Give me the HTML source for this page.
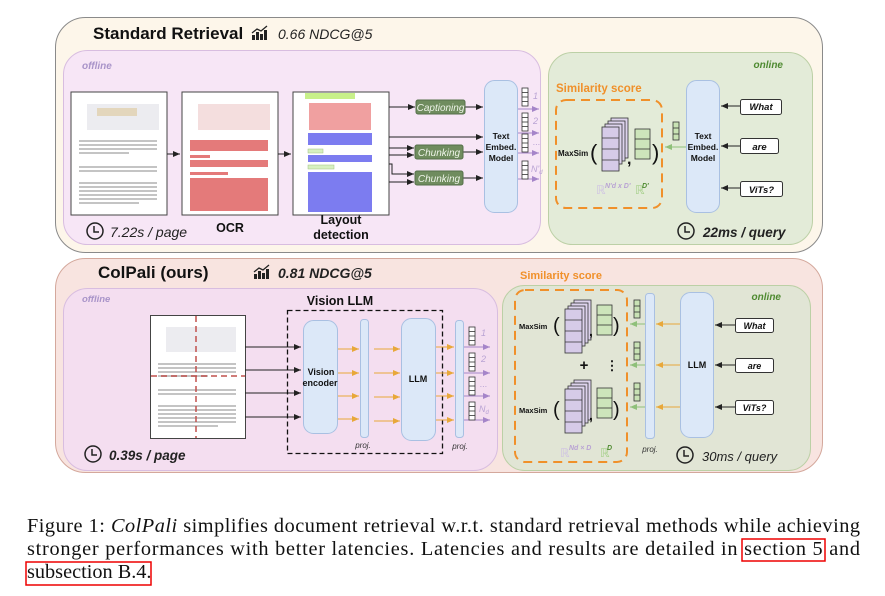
<!DOCTYPE html>
<html><head><meta charset="utf-8"><style>
html,body{margin:0;padding:0;background:#fff;}
svg{display:block;}
text{font-family:"Liberation Sans",sans-serif;}
text.serif{font-family:"Liberation Serif",serif;}
</style></head><body>
<svg width="885" height="596" viewBox="0 0 885 596" xmlns="http://www.w3.org/2000/svg">
<defs>
<marker id="ak" markerWidth="8" markerHeight="8" refX="7" refY="4" orient="auto" markerUnits="userSpaceOnUse"><path d="M0,1 L7,4 L0,7 z" fill="#222"/></marker>
<marker id="ap" markerWidth="8" markerHeight="8" refX="7" refY="4" orient="auto" markerUnits="userSpaceOnUse"><path d="M0,1 L7,4 L0,7 z" fill="#a585c9"/></marker>
<marker id="ao" markerWidth="8" markerHeight="8" refX="7" refY="4" orient="auto" markerUnits="userSpaceOnUse"><path d="M0,1 L7,4 L0,7 z" fill="#e8a83a"/></marker>
<marker id="ag" markerWidth="8" markerHeight="8" refX="7" refY="4" orient="auto" markerUnits="userSpaceOnUse"><path d="M0,1 L7,4 L0,7 z" fill="#8fc07a"/></marker>
<g id="vec"><rect x="0" y="0" width="6" height="18" fill="#fff" stroke="#333" stroke-width="0.8"/><line x1="0" y1="4.5" x2="6" y2="4.5" stroke="#333" stroke-width="0.8"/><line x1="0" y1="9" x2="6" y2="9" stroke="#333" stroke-width="0.8"/><line x1="0" y1="13.5" x2="6" y2="13.5" stroke="#333" stroke-width="0.8"/></g>
<g id="gvec"><rect x="0" y="0" width="6" height="18" fill="#c9e3b5" stroke="#333" stroke-width="0.8"/><line x1="0" y1="6" x2="6" y2="6" stroke="#333" stroke-width="0.8"/><line x1="0" y1="12" x2="6" y2="12" stroke="#333" stroke-width="0.8"/></g>
<g id="clock"><circle cx="0" cy="0" r="8" fill="none" stroke="#222" stroke-width="1.5"/><path d="M-1,-5 V1 H4" fill="none" stroke="#222" stroke-width="1.5"/></g>
<g id="bars"><rect x="0" y="7" width="3" height="5" fill="#222"/><rect x="4" y="4" width="3" height="8" fill="#222"/><rect x="8" y="6" width="3" height="6" fill="#222"/><rect x="12" y="2" width="3" height="10" fill="#222"/><path d="M0,5 L5,1 L9,3 L15,-2" stroke="#222" stroke-width="1.3" fill="none"/></g>
<g id="stack">
<rect x="9" y="0" width="17" height="40" fill="#ddd3ec" stroke="#333" stroke-width="0.8"/>
<rect x="6" y="3" width="17" height="40" fill="#ddd3ec" stroke="#333" stroke-width="0.8"/>
<rect x="3" y="6" width="17" height="40" fill="#ddd3ec" stroke="#333" stroke-width="0.8"/>
<rect x="0" y="9" width="17" height="44" fill="#d6cbe8" stroke="#333" stroke-width="0.8"/>
<line x1="0" y1="20" x2="17" y2="20" stroke="#333" stroke-width="0.8"/><line x1="0" y1="31" x2="17" y2="31" stroke="#333" stroke-width="0.8"/><line x1="0" y1="42" x2="17" y2="42" stroke="#333" stroke-width="0.8"/>
</g>
<g id="gmat"><rect x="0" y="0" width="15" height="30" fill="#cde5bb" stroke="#333" stroke-width="0.8"/><line x1="0" y1="10" x2="15" y2="10" stroke="#333" stroke-width="0.8"/><line x1="0" y1="20" x2="15" y2="20" stroke="#333" stroke-width="0.8"/></g>
<g id="txt" fill="#c4c4c4">
<rect x="8" y="48" width="78" height="2"/><rect x="8" y="52" width="78" height="2"/><rect x="8" y="56" width="78" height="2"/><rect x="8" y="60" width="50" height="2"/>
<rect x="8" y="74" width="78" height="2"/><rect x="8" y="78" width="78" height="2"/>
<rect x="8" y="90" width="78" height="2"/><rect x="8" y="94" width="78" height="2"/><rect x="8" y="98" width="78" height="2"/><rect x="8" y="102" width="78" height="2"/><rect x="8" y="106" width="78" height="2"/><rect x="8" y="110" width="60" height="2"/>
</g>
</defs>

<!-- TOP -->
<rect x="55.5" y="17.5" width="767" height="235" rx="30" fill="#fdf6ea" stroke="#8a8a8a"/>
<text x="93" y="39" font-size="17" font-weight="bold" fill="#111">Standard Retrieval</text>
<use href="#bars" x="252" y="28"/>
<text x="278" y="39" font-size="14" font-style="italic" fill="#222">0.66 NDCG@5</text>
<rect x="63.5" y="50.5" width="477" height="194" rx="24" fill="#f7e6f6" stroke="#d8bde0"/>
<text x="82" y="69" font-size="10" font-weight="bold" font-style="italic" fill="#a994c9">offline</text>

<rect x="71" y="92" width="96" height="123" fill="#fff" stroke="#444"/>
<rect x="87" y="104" width="72" height="26" fill="#ececf0"/><rect x="97" y="108" width="40" height="8" fill="#e3d6bc"/>
<use href="#txt" x="71" y="92"/>
<rect x="182" y="92" width="96" height="123" fill="#fff" stroke="#444"/>
<rect x="198" y="104" width="72" height="26" fill="#f4dede"/>
<g fill="#e47a7a"><rect x="190" y="140" width="78" height="11"/><rect x="190" y="155" width="20" height="3"/><rect x="190" y="160" width="78" height="7"/><rect x="190" y="172" width="38" height="3"/><rect x="190" y="178" width="78" height="33"/></g>
<rect x="293" y="92" width="96" height="123" fill="#fff" stroke="#444"/>
<rect x="305" y="93" width="50" height="6" fill="#c8f08a"/>
<rect x="309" y="103" width="62" height="27" fill="#f0a0a0"/>
<rect x="308" y="133" width="64" height="12" fill="#7c7cf0"/>
<rect x="308" y="149" width="15" height="4" fill="#d7f0c0" stroke="#a0c080" stroke-width="0.5"/>
<rect x="308" y="155" width="64" height="7" fill="#7c7cf0"/>
<rect x="308" y="165" width="26" height="4" fill="#d7f0c0" stroke="#a0c080" stroke-width="0.5"/>
<rect x="308" y="172" width="64" height="40" fill="#7c7cf0"/>

<line x1="167" y1="154" x2="180" y2="154" stroke="#222" marker-end="url(#ak)"/>
<line x1="278" y1="154" x2="291" y2="154" stroke="#222" marker-end="url(#ak)"/>

<use href="#clock" x="95" y="231"/>
<text x="110" y="237" font-size="14" font-style="italic" fill="#222">7.22s / page</text>
<text x="230" y="232" font-size="12.5" font-weight="bold" text-anchor="middle" fill="#111">OCR</text>
<text x="341" y="224" font-size="12.5" font-weight="bold" text-anchor="middle" fill="#111">Layout</text>
<text x="341" y="239" font-size="12.5" font-weight="bold" text-anchor="middle" fill="#111">detection</text>

<g stroke="#222" fill="none">
<line x1="389" y1="107" x2="415" y2="107" marker-end="url(#ak)"/>
<line x1="465" y1="107" x2="483" y2="107" marker-end="url(#ak)"/>
<line x1="389" y1="137" x2="483" y2="137" marker-end="url(#ak)"/>
<line x1="389" y1="148" x2="414" y2="148" marker-end="url(#ak)"/>
<line x1="389" y1="155" x2="414" y2="155" marker-end="url(#ak)"/>
<line x1="463" y1="152" x2="483" y2="152" marker-end="url(#ak)"/>
<path d="M389,164 H392 V174 H414" marker-end="url(#ak)"/>
<line x1="389" y1="182" x2="414" y2="182" marker-end="url(#ak)"/>
<line x1="463" y1="178" x2="483" y2="178" marker-end="url(#ak)"/>
</g>
<g font-size="10" font-style="italic" fill="#eef4e8" text-anchor="middle">
<rect x="416" y="100" width="49" height="14" rx="2" fill="#6f8c5e" stroke="#55704a"/><text x="440.5" y="111">Captioning</text>
<rect x="415" y="145" width="48" height="14" rx="2" fill="#6f8c5e" stroke="#55704a"/><text x="439" y="156">Chunking</text>
<rect x="415" y="171" width="48" height="14" rx="2" fill="#6f8c5e" stroke="#55704a"/><text x="439" y="182">Chunking</text>
</g>
<rect x="484.5" y="80.5" width="33" height="132" rx="10" fill="#dce8f8" stroke="#a9c0e2"/>
<g font-size="8.5" font-weight="bold" text-anchor="middle" fill="#111"><text x="501" y="139">Text</text><text x="501" y="150">Embed.</text><text x="501" y="161">Model</text></g>
<g stroke="#a585c9">
<line x1="518" y1="109" x2="539" y2="109" marker-end="url(#ap)"/>
<line x1="518" y1="133" x2="539" y2="133" marker-end="url(#ap)"/>
<line x1="518" y1="153" x2="539" y2="153" marker-end="url(#ap)"/>
<line x1="518" y1="179" x2="539" y2="179" marker-end="url(#ap)"/>
</g>
<use href="#vec" x="522" y="88"/><use href="#vec" x="522" y="113"/><use href="#vec" x="522" y="134"/><use href="#vec" x="522" y="161"/>
<g font-size="9" fill="#b9a3d4" font-style="italic"><text x="533" y="99">1</text><text x="533" y="124">2</text><text x="533" y="145">...</text><text x="531" y="172">N'<tspan font-size="6" dy="2">d</tspan></text></g>

<rect x="548.5" y="52.5" width="264" height="192" rx="24" fill="#e3ebd8" stroke="#bcd0a6"/>
<text x="783" y="68" font-size="10" font-weight="bold" font-style="italic" fill="#4e8a30" text-anchor="end">online</text>
<text x="556" y="92" font-size="11.5" font-weight="bold" fill="#f0902a">Similarity score</text>
<rect x="556" y="100" width="106" height="108" rx="10" fill="none" stroke="#f0902a" stroke-width="2" stroke-dasharray="9,6"/>
<text x="558" y="156" font-size="8" font-weight="bold" fill="#111">MaxSim</text>
<text x="590" y="160" font-size="22" fill="#111">(</text>
<use href="#stack" x="602" y="118"/>
<text x="627" y="164" font-size="16" font-weight="bold" fill="#111">,</text>
<use href="#gmat" x="635" y="129"/>
<text x="652" y="160" font-size="22" fill="#111">)</text>
<text x="596" y="194" font-size="12" fill="#cfc3e3">ℝ</text><text x="605" y="188" font-size="7" font-style="italic" font-weight="bold" fill="#b9a3d4">N'd x D'</text>
<text x="635" y="194" font-size="12" fill="#a6d08a">ℝ</text><text x="642" y="188" font-size="7" font-style="italic" font-weight="bold" fill="#4e8a30">D'</text>
<use href="#gvec" x="673" y="122"/>
<line x1="686" y1="147" x2="665" y2="147" stroke="#8fc07a" marker-end="url(#ag)"/>
<rect x="686.5" y="80.5" width="33" height="132" rx="10" fill="#dce8f8" stroke="#a9c0e2"/>
<g font-size="8.5" font-weight="bold" text-anchor="middle" fill="#111"><text x="703" y="139">Text</text><text x="703" y="150">Embed.</text><text x="703" y="161">Model</text></g>
<g stroke="#222">
<line x1="740" y1="106" x2="721" y2="106" marker-end="url(#ak)"/>
<line x1="740" y1="146" x2="721" y2="146" marker-end="url(#ak)"/>
<line x1="740" y1="188" x2="721" y2="188" marker-end="url(#ak)"/>
</g>
<g font-size="9.5" font-weight="bold" font-style="italic" text-anchor="middle" fill="#111">
<rect x="740.5" y="99.5" width="41" height="15" rx="2" fill="#fff" stroke="#333"/><text x="761" y="110">What</text>
<rect x="740.5" y="138.5" width="38" height="15" rx="2" fill="#fff" stroke="#333"/><text x="759.5" y="150">are</text>
<rect x="740.5" y="181.5" width="42" height="15" rx="2" fill="#fff" stroke="#333"/><text x="761.5" y="193">ViTs?</text>
</g>
<use href="#clock" x="686" y="231"/>
<text x="703" y="237" font-size="13.5" font-weight="bold" font-style="italic" fill="#222">22ms / query</text>

<!-- BOTTOM -->
<rect x="55.5" y="258.5" width="767" height="214" rx="30" fill="#f8e4e0" stroke="#d4a89c"/>
<text x="98" y="278" font-size="17" font-weight="bold" fill="#111">ColPali (ours)</text>
<use href="#bars" x="254" y="267"/>
<text x="278" y="278" font-size="14" font-weight="bold" font-style="italic" fill="#222">0.81 NDCG@5</text>
<rect x="63.5" y="288.5" width="434" height="182" rx="24" fill="#f4def0" stroke="#d8bde0"/>
<text x="82" y="302" font-size="9.5" font-weight="bold" font-style="italic" fill="#a994c9">offline</text>
<rect x="150.5" y="315.5" width="95" height="123" fill="#fff" stroke="#444"/>
<rect x="166" y="327" width="70" height="25" fill="#ececf0"/>
<use href="#txt" x="150" y="315"/>
<line x1="196" y1="316" x2="196" y2="438" stroke="#c0504d" stroke-width="1.5" stroke-dasharray="6,4"/>
<line x1="151" y1="376" x2="245" y2="376" stroke="#c0504d" stroke-width="1.5" stroke-dasharray="6,4"/>
<g stroke="#222">
<line x1="245" y1="347" x2="301" y2="347" marker-end="url(#ak)"/>
<line x1="245" y1="370" x2="301" y2="370" marker-end="url(#ak)"/>
<line x1="245" y1="393" x2="301" y2="393" marker-end="url(#ak)"/>
<line x1="245" y1="417" x2="301" y2="417" marker-end="url(#ak)"/>
</g>
<text x="340" y="305" font-size="12.5" font-weight="bold" text-anchor="middle" fill="#111">Vision LLM</text>
<rect x="287.5" y="310.5" width="155" height="143" fill="none" stroke="#111" stroke-width="1.3" stroke-dasharray="5,3"/>
<rect x="303.5" y="320.5" width="34" height="113" rx="10" fill="#dce8f8" stroke="#a9c0e2"/>
<text x="321" y="375" font-size="9" font-weight="bold" text-anchor="middle" fill="#111">Vision</text>
<text x="320" y="386" font-size="9" font-weight="bold" text-anchor="middle" fill="#111">encoder</text>
<rect x="360.5" y="319.5" width="8" height="118" rx="3" fill="#dce8f8" stroke="#a9c0e2"/>
<rect x="401.5" y="318.5" width="34" height="122" rx="10" fill="#dce8f8" stroke="#a9c0e2"/>
<text x="418" y="382" font-size="9" font-weight="bold" text-anchor="middle" fill="#111">LLM</text>
<rect x="455.5" y="320.5" width="8" height="117" rx="3" fill="#dce8f8" stroke="#a9c0e2"/>
<g stroke="#e8a83a">
<line x1="338" y1="349" x2="359" y2="349" marker-end="url(#ao)"/><line x1="338" y1="373" x2="359" y2="373" marker-end="url(#ao)"/><line x1="338" y1="396" x2="359" y2="396" marker-end="url(#ao)"/><line x1="338" y1="419" x2="359" y2="419" marker-end="url(#ao)"/>
<line x1="374" y1="349" x2="400" y2="349" marker-end="url(#ao)"/><line x1="374" y1="373" x2="400" y2="373" marker-end="url(#ao)"/><line x1="374" y1="397" x2="400" y2="397" marker-end="url(#ao)"/><line x1="374" y1="421" x2="400" y2="421" marker-end="url(#ao)"/>
<line x1="436" y1="347" x2="454" y2="347" marker-end="url(#ao)"/><line x1="436" y1="373" x2="454" y2="373" marker-end="url(#ao)"/><line x1="436" y1="396" x2="454" y2="396" marker-end="url(#ao)"/><line x1="436" y1="420" x2="454" y2="420" marker-end="url(#ao)"/>
</g>
<g stroke="#a585c9">
<line x1="464" y1="347" x2="490" y2="347" marker-end="url(#ap)"/><line x1="464" y1="373" x2="490" y2="373" marker-end="url(#ap)"/><line x1="464" y1="396" x2="490" y2="396" marker-end="url(#ap)"/><line x1="464" y1="420" x2="490" y2="420" marker-end="url(#ap)"/>
</g>
<use href="#vec" x="469" y="327"/><use href="#vec" x="469" y="353"/><use href="#vec" x="469" y="377"/><use href="#vec" x="469" y="402"/>
<g font-size="9" fill="#b9a3d4" font-style="italic"><text x="481" y="336">1</text><text x="481" y="362">2</text><text x="480" y="387">...</text><text x="479" y="412">N<tspan font-size="6" dy="2">d</tspan></text></g>
<text x="363" y="448" font-size="8" font-style="italic" text-anchor="middle" fill="#333">proj.</text>
<text x="460" y="449" font-size="8" font-style="italic" text-anchor="middle" fill="#333">proj.</text>
<use href="#clock" x="93" y="454"/>
<text x="109" y="460" font-size="13.5" font-weight="bold" font-style="italic" fill="#222">0.39s / page</text>

<text x="520" y="279" font-size="11" font-weight="bold" fill="#f0902a">Similarity score</text>
<rect x="502.5" y="285.5" width="308" height="185" rx="22" fill="#e1e5d5" stroke="#bcd0a6"/>
<text x="781" y="300" font-size="10" font-weight="bold" font-style="italic" fill="#4e8a30" text-anchor="end">online</text>
<rect x="515" y="290" width="112" height="172" rx="10" fill="none" stroke="#f0902a" stroke-width="2" stroke-dasharray="9,6"/>
<text x="519" y="329" font-size="7.5" font-weight="bold" fill="#111">MaxSim</text>
<text x="553" y="332" font-size="20" fill="#111">(</text>
<use href="#stack" x="565" y="300"/>
<text x="589" y="336" font-size="14" font-weight="bold" fill="#111">,</text>
<use href="#gmat" x="597" y="305"/>
<text x="613" y="332" font-size="20" fill="#111">)</text>
<text x="584" y="370" font-size="15" font-weight="bold" text-anchor="middle" fill="#111">+</text>
<text x="612" y="370" font-size="13" font-weight="bold" text-anchor="middle" fill="#111">⋮</text>
<text x="519" y="413" font-size="7.5" font-weight="bold" fill="#111">MaxSim</text>
<text x="553" y="416" font-size="20" fill="#111">(</text>
<use href="#stack" x="565" y="380"/>
<text x="589" y="420" font-size="14" font-weight="bold" fill="#111">,</text>
<use href="#gmat" x="597" y="388"/>
<text x="613" y="416" font-size="20" fill="#111">)</text>
<text x="560" y="457" font-size="12" fill="#cfc3e3">ℝ</text><text x="569" y="450" font-size="7" font-style="italic" font-weight="bold" fill="#b9a3d4">Nd × D</text>
<text x="600" y="457" font-size="12" fill="#a6d08a">ℝ</text><text x="607" y="450" font-size="7" font-style="italic" font-weight="bold" fill="#4e8a30">D</text>
<use href="#gvec" x="634" y="300"/><use href="#gvec" x="634" y="342"/><use href="#gvec" x="634" y="383"/>
<g stroke="#8fc07a"><line x1="645" y1="324" x2="630" y2="324" marker-end="url(#ag)"/><line x1="645" y1="365" x2="630" y2="365" marker-end="url(#ag)"/><line x1="645" y1="407" x2="630" y2="407" marker-end="url(#ag)"/></g>
<rect x="645.5" y="293.5" width="9" height="145" rx="3" fill="#dce8f8" stroke="#a9c0e2"/>
<text x="650" y="452" font-size="8" font-style="italic" text-anchor="middle" fill="#333">proj.</text>
<g stroke="#e8a83a"><line x1="680" y1="324" x2="656" y2="324" marker-end="url(#ao)"/><line x1="680" y1="365" x2="656" y2="365" marker-end="url(#ao)"/><line x1="680" y1="407" x2="656" y2="407" marker-end="url(#ao)"/></g>
<rect x="680.5" y="292.5" width="33" height="145" rx="10" fill="#dce8f8" stroke="#a9c0e2"/>
<text x="697" y="368" font-size="9" font-weight="bold" text-anchor="middle" fill="#111">LLM</text>
<g stroke="#222"><line x1="735" y1="325" x2="715" y2="325" marker-end="url(#ak)"/><line x1="735" y1="365" x2="715" y2="365" marker-end="url(#ak)"/><line x1="735" y1="407" x2="715" y2="407" marker-end="url(#ak)"/></g>
<g font-size="9" font-weight="bold" font-style="italic" text-anchor="middle" fill="#111">
<rect x="735.5" y="318.5" width="38" height="14" rx="2" fill="#fff" stroke="#333"/><text x="754.5" y="329">What</text>
<rect x="735.5" y="358.5" width="38" height="14" rx="2" fill="#fff" stroke="#333"/><text x="754.5" y="369">are</text>
<rect x="735.5" y="400.5" width="38" height="14" rx="2" fill="#fff" stroke="#333"/><text x="754.5" y="411">ViTs?</text>
</g>
<use href="#clock" x="685" y="455"/>
<text x="702" y="461" font-size="13" font-style="italic" fill="#222">30ms / query</text>

<!-- caption -->
<g font-size="20.3" fill="#111">
<text class="serif" x="27" y="532" textLength="833" lengthAdjust="spacing">Figure 1: <tspan font-style="italic">ColPali</tspan> simplifies document retrieval w.r.t. standard retrieval methods while achieving</text>
<text class="serif" x="27" y="555" textLength="833" lengthAdjust="spacing">stronger performances with better latencies.  Latencies and results are detailed in section 5 and</text>
<text class="serif" x="27" y="578">subsection B.4.</text>
</g>
<rect x="742" y="539" width="83" height="22" fill="none" stroke="#e00" stroke-width="1.5"/>
<rect x="26" y="562" width="125" height="23" fill="none" stroke="#e00" stroke-width="1.5"/>
</svg>
</body></html>
